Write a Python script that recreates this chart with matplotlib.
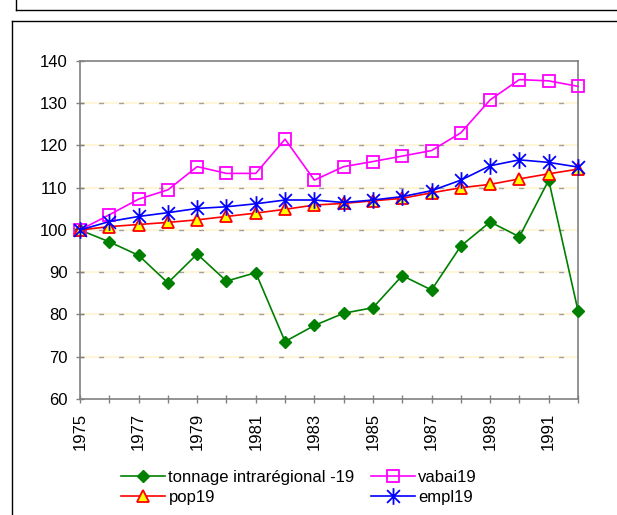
import matplotlib
matplotlib.use("Agg")
import matplotlib.pyplot as plt
from matplotlib.path import Path
from matplotlib.lines import Line2D

plt.rcParams["font.family"] = ["Liberation Sans", "DejaVu Sans"]

years = list(range(1975, 1993))
tonnage = [100, 97.2, 94.0, 87.5, 94.3, 87.9, 89.9, 73.6, 77.4, 80.3,
           81.6, 89.2, 85.8, 96.2, 101.9, 98.4, 111.8, 80.9]
vabai = [100, 103.6, 107.3, 109.5, 115.0, 113.4, 113.4, 121.5, 111.8, 115.0,
         116.2, 117.5, 118.8, 123.0, 130.8, 135.6, 135.3, 134.0]
pop = [100, 100.8, 101.3, 101.8, 102.4, 103.2, 104.0, 104.9, 105.9, 106.3,
       106.9, 107.5, 108.8, 110.0, 110.8, 112.1, 113.3, 114.4]
empl = [100, 102.0, 103.2, 104.1, 105.1, 105.5, 106.2, 107.1, 107.1, 106.5,
        107.1, 107.9, 109.3, 111.8, 115.2, 116.6, 116.0, 114.9]
labels = ["tonnage intrarégional -19", "vabai19", "pop19", "empl19"]

W, H = 617, 515
fig = plt.figure(figsize=(W / 100, H / 100), dpi=100)

# the two Excel frames around the chart
def fline(x0, y0, x1, y1):
    fig.add_artist(Line2D([x0 / W, x1 / W], [1 - y0 / H, 1 - y1 / H],
                          color="black", lw=1.0))

fline(16, 0, 16, 10)
fline(16, 10, W, 10)
fline(12, 21, W, 21)
fline(12, 21, 12, H)

ax = fig.add_axes([80 / W, 1 - 399 / H, (578 - 80) / W, (399 - 61) / H])

for v in range(70, 140, 10):
    ax.axhline(v, color="#fff6d8", lw=1.5, zorder=0.5)
    ax.axhline(v, color="#a0a0a0", lw=1.0, ls=(1, (3.6, 10.8)), zorder=0.6)

# Excel style asterisk: X plus vertical bar
star = Path([(-1, -1), (1, 1), (-1, 1), (1, -1), (0, -1.3), (0, 1.3)],
            [Path.MOVETO, Path.LINETO, Path.MOVETO, Path.LINETO,
             Path.MOVETO, Path.LINETO])

ax.plot(years, tonnage, color="#008000", lw=1.2, marker="D", ms=6.5,
        mfc="#008000", mec="#008000", label=labels[0], clip_on=False, zorder=3)
ax.plot(years, vabai, color="#ff00ff", lw=1.2, marker="s", ms=8,
        mfc="none", mec="#ff00ff", mew=1.3, label=labels[1], clip_on=False, zorder=3)
ax.plot(years, pop, color="#ff0000", lw=1.2, marker="^", ms=8,
        mfc="#ffff00", mec="#ff0000", mew=1.3, label=labels[2], clip_on=False, zorder=3)
ax.plot(years, empl, color="#0000ff", lw=1.2, marker=star, ms=12,
        mfc="none", mec="#0000ff", mew=1.3, label=labels[3], clip_on=False, zorder=3)

ax.set_xlim(1975, 1992)
ax.set_ylim(60, 140)
ax.set_yticks(range(60, 141, 10))
ax.set_xticks(range(1975, 1992, 2))
ax.set_xticks(range(1976, 1993, 2), minor=True)
ax.set_xticklabels([str(y) for y in range(1975, 1992, 2)], rotation=90)

for s in ax.spines.values():
    s.set_color("#808080")
    s.set_linewidth(1.2)
ax.tick_params(which="both", direction="inout", length=6, width=1,
               color="#808080", labelsize=12, labelcolor="black")
ax.tick_params(axis="y", pad=6)
ax.tick_params(axis="x", pad=7)

h, l = ax.get_legend_handles_labels()
order = [0, 2, 1, 3]
ax.legend([h[i] for i in order], [l[i] for i in order], ncol=2,
          loc="upper left", bbox_to_anchor=(121 / W, 1 - 470 / H),
          bbox_transform=fig.transFigure, frameon=False, fontsize=12,
          handlelength=2.65, handletextpad=0.2, columnspacing=0.95,
          labelspacing=0.3, borderpad=0, borderaxespad=0)

fig.savefig("out.png", dpi=100)
